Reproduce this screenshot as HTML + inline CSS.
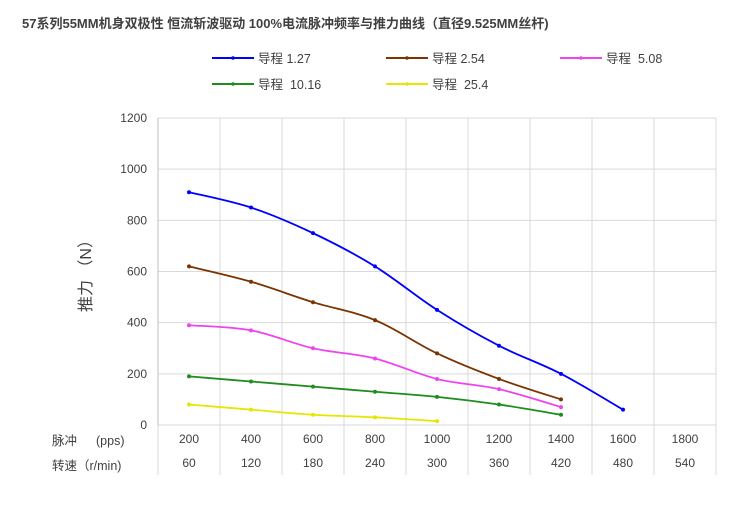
<!DOCTYPE html>
<html><head><meta charset="utf-8"><style>
body{margin:0;background:#fff;width:750px;height:500px;overflow:hidden}
text{font-family:"Liberation Sans","Noto Sans CJK SC",sans-serif;fill:#404040}
</style></head><body>
<svg id="s" width="750" height="500" xmlns="http://www.w3.org/2000/svg">
<text x="22" y="28" font-size="13" font-weight="bold" fill="#404040">57系列55MM机身双极性 恒流斩波驱动 100%电流脉冲频率与推力曲线（直径9.525MM丝杆)</text>
<g id="grid" stroke="#d9d9d9" stroke-width="1"></g>
<g id="lab" font-size="12"></g>
<g id="ser"></g>
<g id="leg" font-size="12.5"></g>
<text x="91" y="272" font-size="16" transform="rotate(-90 91 272)" text-anchor="middle" fill="#404040">推力 （N）</text>
<text x="52" y="445" font-size="12.5">脉冲</text><text x="96" y="445" font-size="12.5">(pps)</text>
<text x="52" y="470" font-size="12.5">转速（r/min)</text>
</svg>
<script>
const ns="http://www.w3.org/2000/svg";
function el(p,t,a,txt){const e=document.createElementNS(ns,t);for(const k in a)e.setAttribute(k,a[k]);if(txt!=null)e.textContent=txt;document.getElementById(p).appendChild(e);return e;}
const X0=158,W=62,Y0=425,SC=307/1200;
const Y=v=>Y0-v*SC, X=i=>X0+W*i+W/2;
for(let v=0;v<=1200;v+=200){el('grid','line',{x1:X0,x2:716,y1:Y(v),y2:Y(v)});el('lab','text',{x:147,y:Y(v)+4,'text-anchor':'end'},v);}
for(let i=0;i<=9;i++)el('grid','line',{x1:X0+W*i,x2:X0+W*i,y1:118,y2:475});
el('grid','line',{x1:X0,x2:X0,y1:118,y2:425,stroke:'#bfbfbf'});
const pps=[200,400,600,800,1000,1200,1400,1600,1800],rpm=[60,120,180,240,300,360,420,480,540];
pps.forEach((p,i)=>{el('lab','text',{x:X(i),y:443,'text-anchor':'middle'},p);el('lab','text',{x:X(i),y:467,'text-anchor':'middle'},rpm[i]);});
const S=[["#0000ff",[910,850,750,620,450,310,200,60],"导程 1.27"],["#7b3300",[620,560,480,410,280,180,100],"导程 2.54"],["#ee44ee",[390,370,300,260,180,140,70],"导程\u00a0\u00a05.08"],["#1e8c1e",[190,170,150,130,110,80,40],"导程\u00a0\u00a010.16"],["#e6e600",[80,60,40,30,15],"导程\u00a0\u00a025.4"]];
S.forEach(([c,d])=>{const P=d.map((v,i)=>[X(i),Y(v)]);let s=`M${P[0]}`;
for(let i=0;i<P.length-1;i++){const p0=P[Math.max(0,i-1)],p1=P[i],p2=P[i+1],p3=P[Math.min(P.length-1,i+2)];const t=0.17;
const c1=[p1[0]+(p2[0]-p0[0])*t,p1[1]+(p2[1]-p0[1])*t],c2=[p2[0]-(p3[0]-p1[0])*t,p2[1]-(p3[1]-p1[1])*t];s+=` C${c1} ${c2} ${p2}`;}
el('ser','path',{d:s,fill:'none',stroke:c,'stroke-width':1.8});P.forEach(p=>el('ser','circle',{cx:p[0],cy:p[1],r:2,fill:c}));});
const L=[[212,58],[386,58],[560,58],[212,84],[386,84]];
S.forEach(([c,,n],i)=>{const[x,y]=L[i];el('leg','line',{x1:x,x2:x+42,y1:y,y2:y,stroke:c,'stroke-width':2});el('leg','circle',{cx:x+21,cy:y,r:1.8,fill:c});el('leg','text',{x:x+46,y:y+5},n);});
</script>
</body></html>
